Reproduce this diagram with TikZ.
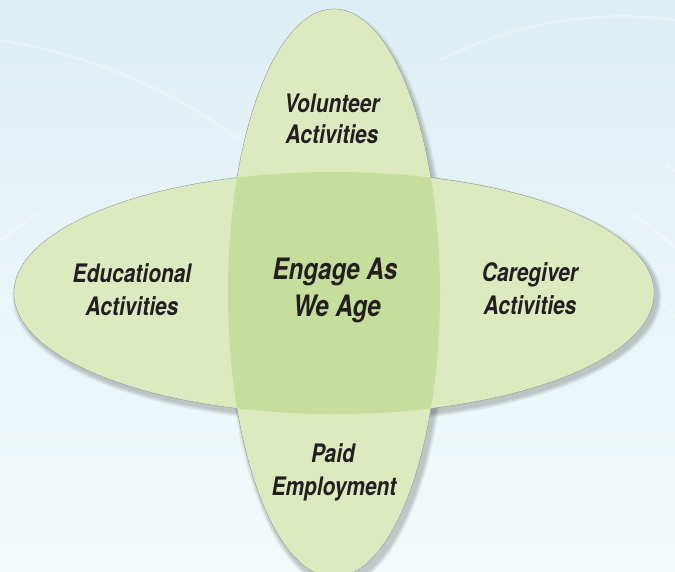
\documentclass[tikz,border=0pt]{standalone}
\usepackage{fontspec}
\newfontfamily\labfont{TeX Gyre Heros}[FakeStretch=0.82]
\usetikzlibrary{calc}
\definecolor{bgtop}{RGB}{221,239,244}
\definecolor{bgbot}{RGB}{244,250,251}
\definecolor{lightg}{RGB}{221,234,192}
\definecolor{darkg}{RGB}{197,222,155}
\definecolor{edgeg}{RGB}{150,162,150}
\definecolor{txt}{RGB}{35,31,32}
\tikzset{
  lbl/.style={anchor=base, inner sep=0pt, text=txt, font=\labfont\bfseries\itshape\fontsize{25.5}{30}\selectfont},
  lblc/.style={lbl, font=\labfont\bfseries\itshape\fontsize{29.5}{35}\selectfont},
  bgline/.style={white, opacity=0.3, line width=2.5pt},
}
\begin{document}
\begin{tikzpicture}[x=1pt,y=-1pt]
\useasboundingbox (0,0) rectangle (675,571);
% background
\shade[top color=bgtop, bottom color=bgbot] (0,0) rectangle (675,571);
\begin{scope}
\clip (0,0) rectangle (675,571);
\foreach \r in {470,520,580}{
  \draw[bgline] (334,640) ++(205:\r) arc[start angle=205, end angle=235, radius=\r];
  \draw[bgline] (334,640) ++(305:\r) arc[start angle=305, end angle=340, radius=\r];
}
\draw[bgline] (0,40) .. controls (120,60) and (200,110) .. (240,140);
\draw[bgline] (440,60) .. controls (520,20) and (600,10) .. (675,20);
\end{scope}
% shadows
\foreach \i in {1,...,6}{
  \fill[black, opacity=0.035] (337,297) ellipse[x radius=320+\i*0.8, y radius=121+\i*0.8];
  \fill[black, opacity=0.035] (337,299) ellipse[x radius=106+\i*0.8, y radius=284+\i*0.8];
}
% ellipses
\coordinate (c) at (334,293);
\draw[edgeg, line width=0.6pt, fill=lightg] (c) ellipse[x radius=320, y radius=121];
\draw[edgeg, line width=0.6pt, fill=lightg] (c) ellipse[x radius=106, y radius=284];
\fill[lightg] (c) ellipse[x radius=319.6, y radius=120.6];
\fill[lightg] (c) ellipse[x radius=105.6, y radius=283.6];
\begin{scope}
\clip (c) ellipse[x radius=320, y radius=121];
\fill[darkg] (c) ellipse[x radius=106, y radius=284];
\end{scope}
% labels
\node[lbl] (v1) at (332,112) {Volunteer};
\node[lbl] (v2) at (332,143) {Activities};
\node[lbl] (e1) at (132,282) {Educational};
\node[lbl] (e2) at (132,315) {Activities};
\node[lbl] (g1) at (530,281) {Caregiver};
\node[lbl] (g2) at (530,314) {Activities};
\node[lbl] (p1) at (333,462) {Paid};
\node[lbl] (p2) at (334,495) {Employment};
\node[lblc] (m1) at (335,279) {Engage As};
\node[lblc] (m2) at (337,316) {We Age};
\end{tikzpicture}
\end{document}
